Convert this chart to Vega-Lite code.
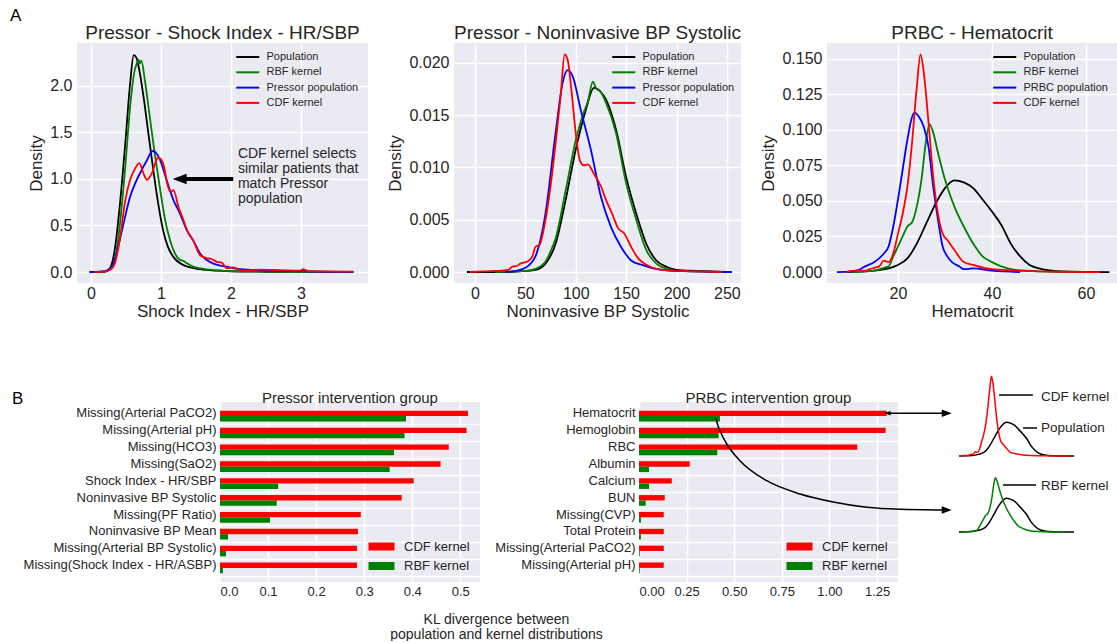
{
"$schema": "https://vega.github.io/schema/vega-lite/v6.json",
"background": "white",
"padding": {"left": 10, "top": 7, "right": 0, "bottom": 0},
"config": {
  "font": "Liberation Sans",
  "view": {"fill": "#EAEAF2", "stroke": null},
  "axis": {"domain": false, "ticks": false, "grid": true, "gridColor": "#FFFFFF", "gridWidth": 1.6, "labelColor": "#262626", "titleColor": "#262626", "titleFontWeight": "normal", "labelFont": "Liberation Sans", "titleFont": "Liberation Sans"},
  "title": {"font": "Liberation Sans", "fontWeight": "normal", "color": "#262626"},
  "legend": {"labelFont": "Liberation Sans", "labelColor": "#262626"},
  "text": {"font": "Liberation Sans"}
},
"datasets": {
  "shock": [
    {"s":"Population","x":-0.02,"y":0},{"s":"Population","x":0.1,"y":0},{"s":"Population","x":0.2,"y":0.005},{"s":"Population","x":0.27,"y":0.04},{"s":"Population","x":0.34,"y":0.24},{"s":"Population","x":0.41,"y":0.7},{"s":"Population","x":0.49,"y":1.38},{"s":"Population","x":0.56,"y":2.03},{"s":"Population","x":0.61,"y":2.33},{"s":"Population","x":0.65,"y":2.3},{"s":"Population","x":0.68,"y":2.21},{"s":"Population","x":0.75,"y":1.89},{"s":"Population","x":0.82,"y":1.49},{"s":"Population","x":0.89,"y":1.1},{"s":"Population","x":0.96,"y":0.74},{"s":"Population","x":1.03,"y":0.45},{"s":"Population","x":1.1,"y":0.27},{"s":"Population","x":1.18,"y":0.16},{"s":"Population","x":1.32,"y":0.075},{"s":"Population","x":1.56,"y":0.03},{"s":"Population","x":1.8,"y":0.014},{"s":"Population","x":2.0,"y":0.008},{"s":"Population","x":2.5,"y":0.003},{"s":"Population","x":3.0,"y":0.001},{"s":"Population","x":3.75,"y":0},
    {"s":"RBF kernel","x":0,"y":0},{"s":"RBF kernel","x":0.2,"y":0.005},{"s":"RBF kernel","x":0.3,"y":0.05},{"s":"RBF kernel","x":0.36,"y":0.2},{"s":"RBF kernel","x":0.41,"y":0.49},{"s":"RBF kernel","x":0.49,"y":1.13},{"s":"RBF kernel","x":0.56,"y":1.78},{"s":"RBF kernel","x":0.62,"y":2.15},{"s":"RBF kernel","x":0.65,"y":2.23},{"s":"RBF kernel","x":0.68,"y":2.28},{"s":"RBF kernel","x":0.7,"y":2.24},{"s":"RBF kernel","x":0.72,"y":2.27},{"s":"RBF kernel","x":0.77,"y":2.06},{"s":"RBF kernel","x":0.84,"y":1.67},{"s":"RBF kernel","x":0.91,"y":1.28},{"s":"RBF kernel","x":0.99,"y":0.88},{"s":"RBF kernel","x":1.06,"y":0.56},{"s":"RBF kernel","x":1.13,"y":0.34},{"s":"RBF kernel","x":1.2,"y":0.2},{"s":"RBF kernel","x":1.27,"y":0.13},{"s":"RBF kernel","x":1.32,"y":0.12},{"s":"RBF kernel","x":1.36,"y":0.1},{"s":"RBF kernel","x":1.46,"y":0.057},{"s":"RBF kernel","x":1.7,"y":0.025},{"s":"RBF kernel","x":2.0,"y":0.01},{"s":"RBF kernel","x":2.5,"y":0.005},{"s":"RBF kernel","x":3.0,"y":0.002},{"s":"RBF kernel","x":3.75,"y":0},
    {"s":"Pressor population","x":-0.02,"y":0},{"s":"Pressor population","x":0.2,"y":0.01},{"s":"Pressor population","x":0.3,"y":0.06},{"s":"Pressor population","x":0.34,"y":0.13},{"s":"Pressor population","x":0.41,"y":0.34},{"s":"Pressor population","x":0.49,"y":0.6},{"s":"Pressor population","x":0.56,"y":0.81},{"s":"Pressor population","x":0.63,"y":0.95},{"s":"Pressor population","x":0.7,"y":1.06},{"s":"Pressor population","x":0.8,"y":1.2},{"s":"Pressor population","x":0.88,"y":1.3},{"s":"Pressor population","x":0.94,"y":1.27},{"s":"Pressor population","x":0.99,"y":1.2},{"s":"Pressor population","x":1.08,"y":0.99},{"s":"Pressor population","x":1.18,"y":0.77},{"s":"Pressor population","x":1.27,"y":0.63},{"s":"Pressor population","x":1.37,"y":0.45},{"s":"Pressor population","x":1.46,"y":0.34},{"s":"Pressor population","x":1.56,"y":0.2},{"s":"Pressor population","x":1.75,"y":0.09},{"s":"Pressor population","x":1.94,"y":0.057},{"s":"Pressor population","x":2.13,"y":0.03},{"s":"Pressor population","x":2.5,"y":0.015},{"s":"Pressor population","x":3.0,"y":0.01},{"s":"Pressor population","x":3.03,"y":0.02},{"s":"Pressor population","x":3.08,"y":0.008},{"s":"Pressor population","x":3.75,"y":0},
    {"s":"CDF kernel","x":0.05,"y":0},{"s":"CDF kernel","x":0.2,"y":0.005},{"s":"CDF kernel","x":0.3,"y":0.04},{"s":"CDF kernel","x":0.34,"y":0.09},{"s":"CDF kernel","x":0.41,"y":0.34},{"s":"CDF kernel","x":0.49,"y":0.77},{"s":"CDF kernel","x":0.56,"y":0.99},{"s":"CDF kernel","x":0.63,"y":1.11},{"s":"CDF kernel","x":0.69,"y":1.17},{"s":"CDF kernel","x":0.75,"y":1.06},{"s":"CDF kernel","x":0.8,"y":0.99},{"s":"CDF kernel","x":0.87,"y":1.06},{"s":"CDF kernel","x":0.96,"y":1.23},{"s":"CDF kernel","x":1.03,"y":1.17},{"s":"CDF kernel","x":1.1,"y":0.92},{"s":"CDF kernel","x":1.14,"y":0.86},{"s":"CDF kernel","x":1.18,"y":0.88},{"s":"CDF kernel","x":1.25,"y":0.7},{"s":"CDF kernel","x":1.32,"y":0.56},{"s":"CDF kernel","x":1.39,"y":0.42},{"s":"CDF kernel","x":1.46,"y":0.34},{"s":"CDF kernel","x":1.56,"y":0.18},{"s":"CDF kernel","x":1.65,"y":0.15},{"s":"CDF kernel","x":1.72,"y":0.14},{"s":"CDF kernel","x":1.8,"y":0.11},{"s":"CDF kernel","x":1.87,"y":0.1},{"s":"CDF kernel","x":1.94,"y":0.04},{"s":"CDF kernel","x":2.03,"y":0.05},{"s":"CDF kernel","x":2.17,"y":0.015},{"s":"CDF kernel","x":2.3,"y":0.02},{"s":"CDF kernel","x":2.41,"y":0.025},{"s":"CDF kernel","x":2.7,"y":0.02},{"s":"CDF kernel","x":3.0,"y":0.015},{"s":"CDF kernel","x":3.03,"y":0.03},{"s":"CDF kernel","x":3.1,"y":0.01},{"s":"CDF kernel","x":3.75,"y":0.005}
  ],
  "bp": [
    {"s":"Population","x":-8,"y":0},{"s":"Population","x":30,"y":0},{"s":"Population","x":50,"y":0.0001},{"s":"Population","x":60,"y":0.0002},{"s":"Population","x":70,"y":0.0008},{"s":"Population","x":80,"y":0.0027},{"s":"Population","x":90,"y":0.0069},{"s":"Population","x":100,"y":0.0117},{"s":"Population","x":110,"y":0.0155},{"s":"Population","x":118,"y":0.0176},{"s":"Population","x":125,"y":0.0172},{"s":"Population","x":130,"y":0.0165},{"s":"Population","x":140,"y":0.0136},{"s":"Population","x":150,"y":0.0091},{"s":"Population","x":160,"y":0.0056},{"s":"Population","x":170,"y":0.0027},{"s":"Population","x":180,"y":0.0011},{"s":"Population","x":190,"y":0.0005},{"s":"Population","x":200,"y":0.0002},{"s":"Population","x":220,"y":0.0001},{"s":"Population","x":250,"y":0},
    {"s":"RBF kernel","x":20,"y":0},{"s":"RBF kernel","x":50,"y":0.0001},{"s":"RBF kernel","x":60,"y":0.0003},{"s":"RBF kernel","x":70,"y":0.001},{"s":"RBF kernel","x":76,"y":0.0022},{"s":"RBF kernel","x":80,"y":0.0032},{"s":"RBF kernel","x":90,"y":0.0078},{"s":"RBF kernel","x":100,"y":0.0126},{"s":"RBF kernel","x":107,"y":0.015},{"s":"RBF kernel","x":112,"y":0.0163},{"s":"RBF kernel","x":117,"y":0.0182},{"s":"RBF kernel","x":120,"y":0.0176},{"s":"RBF kernel","x":125,"y":0.0172},{"s":"RBF kernel","x":130,"y":0.0162},{"s":"RBF kernel","x":140,"y":0.0133},{"s":"RBF kernel","x":150,"y":0.0085},{"s":"RBF kernel","x":160,"y":0.005},{"s":"RBF kernel","x":170,"y":0.0021},{"s":"RBF kernel","x":180,"y":0.0008},{"s":"RBF kernel","x":190,"y":0.0003},{"s":"RBF kernel","x":200,"y":0.0001},{"s":"RBF kernel","x":240,"y":0},
    {"s":"Pressor population","x":30,"y":0},{"s":"Pressor population","x":40,"y":0.0001},{"s":"Pressor population","x":50,"y":0.0004},{"s":"Pressor population","x":60,"y":0.0015},{"s":"Pressor population","x":70,"y":0.0056},{"s":"Pressor population","x":80,"y":0.0133},{"s":"Pressor population","x":87,"y":0.0181},{"s":"Pressor population","x":92,"y":0.0193},{"s":"Pressor population","x":97,"y":0.0187},{"s":"Pressor population","x":105,"y":0.0155},{"s":"Pressor population","x":115,"y":0.0117},{"s":"Pressor population","x":125,"y":0.0072},{"s":"Pressor population","x":135,"y":0.0043},{"s":"Pressor population","x":145,"y":0.0024},{"s":"Pressor population","x":155,"y":0.0011},{"s":"Pressor population","x":165,"y":0.0007},{"s":"Pressor population","x":175,"y":0.0004},{"s":"Pressor population","x":200,"y":0.0001},{"s":"Pressor population","x":255,"y":0},
    {"s":"CDF kernel","x":-5,"y":0},{"s":"CDF kernel","x":20,"y":0.0001},{"s":"CDF kernel","x":33,"y":0.0002},{"s":"CDF kernel","x":37,"y":0.0005},{"s":"CDF kernel","x":42,"y":0.0006},{"s":"CDF kernel","x":45,"y":0.0008},{"s":"CDF kernel","x":52,"y":0.001},{"s":"CDF kernel","x":57,"y":0.0015},{"s":"CDF kernel","x":60,"y":0.0024},{"s":"CDF kernel","x":64,"y":0.0026},{"s":"CDF kernel","x":70,"y":0.005},{"s":"CDF kernel","x":75,"y":0.0082},{"s":"CDF kernel","x":80,"y":0.0123},{"s":"CDF kernel","x":85,"y":0.0168},{"s":"CDF kernel","x":89,"y":0.0208},{"s":"CDF kernel","x":92,"y":0.0203},{"s":"CDF kernel","x":96,"y":0.0171},{"s":"CDF kernel","x":100,"y":0.0133},{"s":"CDF kernel","x":104,"y":0.0107},{"s":"CDF kernel","x":108,"y":0.0102},{"s":"CDF kernel","x":112,"y":0.0103},{"s":"CDF kernel","x":118,"y":0.0094},{"s":"CDF kernel","x":125,"y":0.0082},{"s":"CDF kernel","x":130,"y":0.0069},{"s":"CDF kernel","x":136,"y":0.0056},{"s":"CDF kernel","x":142,"y":0.0042},{"s":"CDF kernel","x":148,"y":0.0037},{"s":"CDF kernel","x":155,"y":0.0024},{"s":"CDF kernel","x":162,"y":0.0013},{"s":"CDF kernel","x":170,"y":0.0007},{"s":"CDF kernel","x":180,"y":0.0003},{"s":"CDF kernel","x":200,"y":0.0001},{"s":"CDF kernel","x":245,"y":0}
  ],
  "hct": [
    {"s":"Population","x":9,"y":0},{"s":"Population","x":12,"y":0.0003},{"s":"Population","x":15,"y":0.001},{"s":"Population","x":18,"y":0.0026},{"s":"Population","x":20,"y":0.005},{"s":"Population","x":22,"y":0.0096},{"s":"Population","x":24,"y":0.02},{"s":"Population","x":26,"y":0.034},{"s":"Population","x":28,"y":0.048},{"s":"Population","x":30,"y":0.059},{"s":"Population","x":32,"y":0.0645},{"s":"Population","x":34,"y":0.063},{"s":"Population","x":36,"y":0.059},{"s":"Population","x":38,"y":0.051},{"s":"Population","x":40,"y":0.0425},{"s":"Population","x":42,"y":0.033},{"s":"Population","x":44,"y":0.02},{"s":"Population","x":46,"y":0.011},{"s":"Population","x":48,"y":0.005},{"s":"Population","x":50,"y":0.0026},{"s":"Population","x":55,"y":0.0005},{"s":"Population","x":65,"y":0},
    {"s":"RBF kernel","x":10,"y":0},{"s":"RBF kernel","x":15,"y":0.001},{"s":"RBF kernel","x":17,"y":0.003},{"s":"RBF kernel","x":18,"y":0.004},{"s":"RBF kernel","x":19,"y":0.011},{"s":"RBF kernel","x":20,"y":0.018},{"s":"RBF kernel","x":21,"y":0.025},{"s":"RBF kernel","x":22,"y":0.032},{"s":"RBF kernel","x":23,"y":0.035},{"s":"RBF kernel","x":24,"y":0.046},{"s":"RBF kernel","x":25,"y":0.065},{"s":"RBF kernel","x":26,"y":0.093},{"s":"RBF kernel","x":26.7,"y":0.104},{"s":"RBF kernel","x":27.5,"y":0.098},{"s":"RBF kernel","x":28.5,"y":0.084},{"s":"RBF kernel","x":30,"y":0.065},{"s":"RBF kernel","x":32,"y":0.046},{"s":"RBF kernel","x":34,"y":0.032},{"s":"RBF kernel","x":36,"y":0.02},{"s":"RBF kernel","x":38,"y":0.011},{"s":"RBF kernel","x":40,"y":0.007},{"s":"RBF kernel","x":42,"y":0.004},{"s":"RBF kernel","x":45,"y":0.0015},{"s":"RBF kernel","x":50,"y":0.0005},{"s":"RBF kernel","x":60,"y":0},
    {"s":"PRBC population","x":7,"y":0},{"s":"PRBC population","x":10,"y":0.0005},{"s":"PRBC population","x":12,"y":0.002},{"s":"PRBC population","x":13,"y":0.004},{"s":"PRBC population","x":15,"y":0.007},{"s":"PRBC population","x":17,"y":0.013},{"s":"PRBC population","x":18,"y":0.018},{"s":"PRBC population","x":19,"y":0.032},{"s":"PRBC population","x":20,"y":0.051},{"s":"PRBC population","x":21,"y":0.072},{"s":"PRBC population","x":22,"y":0.093},{"s":"PRBC population","x":23,"y":0.109},{"s":"PRBC population","x":23.5,"y":0.112},{"s":"PRBC population","x":24.5,"y":0.109},{"s":"PRBC population","x":25.5,"y":0.102},{"s":"PRBC population","x":26.5,"y":0.088},{"s":"PRBC population","x":27.5,"y":0.06},{"s":"PRBC population","x":28.5,"y":0.037},{"s":"PRBC population","x":29.5,"y":0.018},{"s":"PRBC population","x":30.5,"y":0.011},{"s":"PRBC population","x":31.5,"y":0.007},{"s":"PRBC population","x":33,"y":0.004},{"s":"PRBC population","x":34,"y":0.002},{"s":"PRBC population","x":36,"y":0.0026},{"s":"PRBC population","x":40,"y":0.001},{"s":"PRBC population","x":46,"y":0},
    {"s":"CDF kernel","x":9,"y":0},{"s":"CDF kernel","x":11,"y":0.001},{"s":"CDF kernel","x":13,"y":0.0008},{"s":"CDF kernel","x":14,"y":0.002},{"s":"CDF kernel","x":15,"y":0.003},{"s":"CDF kernel","x":16,"y":0.004},{"s":"CDF kernel","x":17,"y":0.008},{"s":"CDF kernel","x":18,"y":0.007},{"s":"CDF kernel","x":19,"y":0.013},{"s":"CDF kernel","x":20,"y":0.027},{"s":"CDF kernel","x":21,"y":0.041},{"s":"CDF kernel","x":22,"y":0.06},{"s":"CDF kernel","x":23,"y":0.091},{"s":"CDF kernel","x":24,"y":0.13},{"s":"CDF kernel","x":24.8,"y":0.153},{"s":"CDF kernel","x":25.5,"y":0.14},{"s":"CDF kernel","x":26.5,"y":0.105},{"s":"CDF kernel","x":27.5,"y":0.067},{"s":"CDF kernel","x":28.5,"y":0.041},{"s":"CDF kernel","x":29.5,"y":0.027},{"s":"CDF kernel","x":30.5,"y":0.0225},{"s":"CDF kernel","x":32,"y":0.0155},{"s":"CDF kernel","x":34,"y":0.007},{"s":"CDF kernel","x":36,"y":0.005},{"s":"CDF kernel","x":40,"y":0.002},{"s":"CDF kernel","x":50,"y":0.0005},{"s":"CDF kernel","x":63,"y":0}
  ],
  "pressorKL": [
    {"f":"Missing(Arterial PaCO2)","k":"CDF kernel","kl":0.516},{"f":"Missing(Arterial PaCO2)","k":"RBF kernel","kl":0.387},
    {"f":"Missing(Arterial pH)","k":"CDF kernel","kl":0.513},{"f":"Missing(Arterial pH)","k":"RBF kernel","kl":0.384},
    {"f":"Missing(HCO3)","k":"CDF kernel","kl":0.476},{"f":"Missing(HCO3)","k":"RBF kernel","kl":0.362},
    {"f":"Missing(SaO2)","k":"CDF kernel","kl":0.459},{"f":"Missing(SaO2)","k":"RBF kernel","kl":0.353},
    {"f":"Shock Index - HR/SBP","k":"CDF kernel","kl":0.403},{"f":"Shock Index - HR/SBP","k":"RBF kernel","kl":0.121},
    {"f":"Noninvasive BP Systolic","k":"CDF kernel","kl":0.378},{"f":"Noninvasive BP Systolic","k":"RBF kernel","kl":0.118},
    {"f":"Missing(PF Ratio)","k":"CDF kernel","kl":0.293},{"f":"Missing(PF Ratio)","k":"RBF kernel","kl":0.104},
    {"f":"Noninvasive BP Mean","k":"CDF kernel","kl":0.287},{"f":"Noninvasive BP Mean","k":"RBF kernel","kl":0.0166},
    {"f":"Missing(Arterial BP Systolic)","k":"CDF kernel","kl":0.285},{"f":"Missing(Arterial BP Systolic)","k":"RBF kernel","kl":0.0125},
    {"f":"Missing(Shock Index - HR/ASBP)","k":"CDF kernel","kl":0.285},{"f":"Missing(Shock Index - HR/ASBP)","k":"RBF kernel","kl":0.006}
  ],
  "prbcKL": [
    {"f":"Hematocrit","k":"CDF kernel","kl":1.301},{"f":"Hematocrit","k":"RBF kernel","kl":0.425},
    {"f":"Hemoglobin","k":"CDF kernel","kl":1.295},{"f":"Hemoglobin","k":"RBF kernel","kl":0.418},
    {"f":"RBC","k":"CDF kernel","kl":1.146},{"f":"RBC","k":"RBF kernel","kl":0.411},
    {"f":"Albumin","k":"CDF kernel","kl":0.266},{"f":"Albumin","k":"RBF kernel","kl":0.0527},
    {"f":"Calcium","k":"CDF kernel","kl":0.172},{"f":"Calcium","k":"RBF kernel","kl":0.0527},
    {"f":"BUN","k":"CDF kernel","kl":0.135},{"f":"BUN","k":"RBF kernel","kl":0.035},
    {"f":"Missing(CVP)","k":"CDF kernel","kl":0.13},{"f":"Missing(CVP)","k":"RBF kernel","kl":0.01},
    {"f":"Total Protein","k":"CDF kernel","kl":0.13},{"f":"Total Protein","k":"RBF kernel","kl":0.01},
    {"f":"Missing(Arterial PaCO2)","k":"CDF kernel","kl":0.13},{"f":"Missing(Arterial PaCO2)","k":"RBF kernel","kl":0.004},
    {"f":"Missing(Arterial pH)","k":"CDF kernel","kl":0.13},{"f":"Missing(Arterial pH)","k":"RBF kernel","kl":0.004}
  ]
},
"spacing": 54,
"resolve": {"scale": {"color": "independent"}, "legend": {"color": "independent"}},
"vconcat": [
  {
    "title": {"text": "A", "anchor": "start", "frame": "group", "fontSize": 17, "dx": -67, "dy": 17, "offset": 3, "baseline": "alphabetic", "color": "#000000"},
    "bounds": "flush",
    "spacing": 86,
    "resolve": {"scale": {"color": "independent"}, "legend": {"color": "independent"}},
    "hconcat": [
      {
        "width": 291, "height": 240,
        "title": {"text": "Pressor - Shock Index - HR/SBP", "fontSize": 19, "offset": -15, "baseline": "alphabetic"},
        "layer": [
          {"data": {"name": "shock"}, "mark": {"type": "line", "strokeWidth": 1.8, "interpolate": "monotone"},
           "encoding": {
             "x": {"field": "x", "type": "quantitative", "scale": {"domain": [-0.2, 3.96], "nice": false, "zero": false}, "axis": {"values": [0,1,2,3], "format": "d", "title": "Shock Index - HR/SBP", "labelFontSize": 16, "titleFontSize": 17, "labelPadding": 2, "titlePadding": 2}},
             "y": {"field": "y", "type": "quantitative", "scale": {"domain": [-0.118, 2.46], "nice": false, "zero": false}, "axis": {"values": [0,0.5,1,1.5,2], "format": ".1f", "title": "Density", "labelFontSize": 16, "titleFontSize": 17, "labelPadding": 5, "titlePadding": 4}},
             "color": {"field": "s", "type": "nominal", "sort": null, "scale": {"domain": ["Population","RBF kernel","Pressor population","CDF kernel"], "range": ["#000000","#008000","#0000FF","#FF0000"]},
               "legend": {"orient": "none", "legendX": 163.75, "legendY": 7, "title": null, "symbolType": "M-2,0H2", "symbolSize": 132, "symbolStrokeWidth": 2, "labelFontSize": 11, "labelOffset": 11.75, "rowPadding": 3.3, "padding": 0}}
           }},
          {"data": {"values": [{"x": 2.1, "y": 1.344, "t": "CDF kernel selects\nsimilar patients that\nmatch Pressor\npopulation"}]},
           "mark": {"type": "text", "align": "left", "baseline": "top", "fontSize": 14, "lineHeight": 15, "lineBreak": "\n", "color": "#262626"},
           "encoding": {"x": {"field": "x", "type": "quantitative"}, "y": {"field": "y", "type": "quantitative"}, "text": {"field": "t"}}},
          {"data": {"values": [{"x": 2.033, "x2": 1.3, "y": 1.0}]},
           "mark": {"type": "rule", "strokeWidth": 4, "color": "#000000"},
           "encoding": {"x": {"field": "x", "type": "quantitative"}, "x2": {"field": "x2"}, "y": {"field": "y", "type": "quantitative"}}},
          {"data": {"values": [{"x": 1.267, "y": 1.0}]},
           "mark": {"type": "point", "shape": "M-1,0L1,-0.75L1,0.75Z", "size": 196, "filled": true, "color": "#000000", "opacity": 1},
           "encoding": {"x": {"field": "x", "type": "quantitative"}, "y": {"field": "y", "type": "quantitative"}}}
        ]
      },
      {
        "width": 287, "height": 240,
        "title": {"text": "Pressor - Noninvasive BP Systolic", "fontSize": 19, "offset": -15, "baseline": "alphabetic"},
        "data": {"name": "bp"},
        "mark": {"type": "line", "strokeWidth": 1.8, "interpolate": "monotone"},
        "encoding": {
          "x": {"field": "x", "type": "quantitative", "scale": {"domain": [-20.8, 264], "nice": false, "zero": false}, "axis": {"values": [0,50,100,150,200,250], "format": "d", "title": "Noninvasive BP Systolic", "labelFontSize": 16, "titleFontSize": 17, "labelPadding": 2, "titlePadding": 2}},
          "y": {"field": "y", "type": "quantitative", "scale": {"domain": [-0.00105, 0.0219], "nice": false, "zero": false}, "axis": {"values": [0,0.005,0.01,0.015,0.02], "format": ".3f", "title": "Density", "labelFontSize": 16, "titleFontSize": 17, "labelPadding": 5, "titlePadding": 4}},
          "color": {"field": "s", "type": "nominal", "sort": null, "scale": {"domain": ["Population","RBF kernel","Pressor population","CDF kernel"], "range": ["#000000","#008000","#0000FF","#FF0000"]},
            "legend": {"orient": "none", "legendX": 162.75, "legendY": 7, "title": null, "symbolType": "M-2,0H2", "symbolSize": 132, "symbolStrokeWidth": 2, "labelFontSize": 11, "labelOffset": 11.75, "rowPadding": 3.3, "padding": 0}}
        }
      },
      {
        "width": 290, "height": 240,
        "title": {"text": "PRBC - Hematocrit", "fontSize": 19, "offset": -15, "baseline": "alphabetic"},
        "data": {"name": "hct"},
        "mark": {"type": "line", "strokeWidth": 1.8, "interpolate": "monotone"},
        "encoding": {
          "x": {"field": "x", "type": "quantitative", "scale": {"domain": [4.9, 66.6], "nice": false, "zero": false}, "axis": {"values": [20,40,60], "format": "d", "title": "Hematocrit", "labelFontSize": 16, "titleFontSize": 17, "labelPadding": 2, "titlePadding": 2}},
          "y": {"field": "y", "type": "quantitative", "scale": {"domain": [-0.0077, 0.161], "nice": false, "zero": false}, "axis": {"values": [0,0.025,0.05,0.075,0.1,0.125,0.15], "format": ".3f", "title": "Density", "labelFontSize": 16, "titleFontSize": 17, "labelPadding": 5, "titlePadding": 4}},
          "color": {"field": "s", "type": "nominal", "sort": null, "scale": {"domain": ["Population","RBF kernel","PRBC population","CDF kernel"], "range": ["#000000","#008000","#0000FF","#FF0000"]},
            "legend": {"orient": "none", "legendX": 170.75, "legendY": 7, "title": null, "symbolType": "M-2,0H2", "symbolSize": 132, "symbolStrokeWidth": 2, "labelFontSize": 11, "labelOffset": 11.75, "rowPadding": 3.3, "padding": 0}}
        }
      }
    ]
  },
  {
    "title": {"text": "B", "anchor": "start", "frame": "group", "fontSize": 17, "dx": -65, "dy": 48, "offset": 0, "baseline": "alphabetic", "color": "#000000"},
    "bounds": "flush",
    "spacing": 142,
    "resolve": {"scale": {"color": "independent"}, "legend": {"color": "independent"}},
    "hconcat": [
      {"width": 1, "height": 1, "view": {"fill": null, "stroke": null}, "data": {"values": []}, "mark": "point"},
      {
        "spacing": 4,
        "resolve": {"scale": {"color": "independent"}, "legend": {"color": "independent"}},
        "hconcat": [
          {
            "bounds": "flush",
            "spacing": 159,
            "resolve": {"scale": {"color": "independent"}, "legend": {"color": "independent"}},
            "hconcat": [
              {
                "width": 260, "height": 180,
                "title": {"text": "Pressor intervention group", "fontSize": 15, "offset": -16, "baseline": "alphabetic"},
                "data": {"name": "pressorKL"},
                "mark": {"type": "bar"},
                "encoding": {
                  "x": {"field": "kl", "type": "quantitative", "scale": {"domain": [0, 0.541], "nice": false, "zero": false},
                    "axis": {"values": [0,0.1,0.2,0.3,0.4,0.5], "format": ".1f", "labelFontSize": 13, "labelPadding": 3, "title": ["KL divergence between", "population and kernel distributions"], "titleFontSize": 14, "titleX": 276, "titleY": 30, "titleBaseline": "top", "titleAlign": "center", "titleLineHeight": 15}},
                  "y": {"field": "f", "type": "nominal", "sort": null, "scale": {"paddingInner": 0.365, "paddingOuter": 0.52},
                    "axis": {"title": null, "labelFontSize": 13, "labelPadding": 4, "bandPosition": 1.288, "labelOffset": -2.7, "labelLimit": 300}},
                  "yOffset": {"field": "k", "type": "nominal", "sort": null, "scale": {"paddingInner": 0, "paddingOuter": 0}},
                  "color": {"field": "k", "type": "nominal", "sort": null, "scale": {"domain": ["CDF kernel", "RBF kernel"], "range": ["#FF0000", "#008000"]},
                    "legend": {"orient": "none", "legendX": 155, "legendY": 138, "title": null, "symbolType": "M-3.25,-1H3.25V1H-3.25Z", "symbolSize": 64, "symbolStrokeWidth": 0, "symbolOpacity": 1, "labelFontSize": 13, "labelOffset": 16, "rowPadding": 5.5, "padding": 0}}
                }
              },
              {
                "width": 259, "height": 180,
                "title": {"text": "PRBC intervention group", "fontSize": 15, "offset": -16, "baseline": "alphabetic"},
                "resolve": {"scale": {"y": "independent"}},
                "layer": [
                  {
                    "data": {"name": "prbcKL"},
                    "mark": {"type": "bar"},
                    "encoding": {
                      "x": {"field": "kl", "type": "quantitative", "scale": {"domain": [0, 1.36], "nice": false, "zero": false},
                        "axis": {"values": [0,0.25,0.5,0.75,1,1.25], "format": ".2f", "labelFontSize": 13, "labelPadding": 3, "title": null}},
                      "y": {"field": "f", "type": "nominal", "sort": null, "scale": {"paddingInner": 0.365, "paddingOuter": 0.52},
                        "axis": {"title": null, "labelFontSize": 13, "labelPadding": 4, "bandPosition": 1.288, "labelOffset": -2.7, "labelLimit": 300}},
                      "yOffset": {"field": "k", "type": "nominal", "sort": null, "scale": {"paddingInner": 0, "paddingOuter": 0}},
                      "color": {"field": "k", "type": "nominal", "sort": null, "scale": {"domain": ["CDF kernel", "RBF kernel"], "range": ["#FF0000", "#008000"]},
                        "legend": {"orient": "none", "legendX": 154, "legendY": 138, "title": null, "symbolType": "M-3.25,-1H3.25V1H-3.25Z", "symbolSize": 64, "symbolStrokeWidth": 0, "symbolOpacity": 1, "labelFontSize": 13, "labelOffset": 16, "rowPadding": 5.5, "padding": 0}}
                    }
                  },
                  {
                    "data": {"values": [{"kl": 1.292, "kl2": 1.616, "row": -0.166}]},
                    "mark": {"type": "rule", "strokeWidth": 1.5, "color": "#000000", "clip": false},
                    "encoding": {
                      "x": {"field": "kl", "type": "quantitative", "scale": {"domain": [0, 1.36], "nice": false, "zero": false}},
                      "x2": {"field": "kl2"},
                      "y": {"field": "row", "type": "quantitative", "scale": {"domain": [-0.836, 9.84], "reverse": true, "nice": false, "zero": false}, "axis": null}
                    }
                  },
                  {
                    "data": {"values": [
                      {"kl": 0.404, "row": 0.113}, {"kl": 0.412, "row": 0.47}, {"kl": 0.425, "row": 0.866}, {"kl": 0.461, "row": 1.655},
                      {"kl": 0.53, "row": 2.645}, {"kl": 0.671, "row": 3.832}, {"kl": 0.846, "row": 4.62}, {"kl": 1.02, "row": 5.095},
                      {"kl": 1.196, "row": 5.409}, {"kl": 1.371, "row": 5.528}, {"kl": 1.589, "row": 5.569}, {"kl": 1.616, "row": 5.572}
                    ]},
                    "mark": {"type": "line", "strokeWidth": 1.5, "color": "#000000", "interpolate": "monotone", "clip": false},
                    "encoding": {
                      "x": {"field": "kl", "type": "quantitative", "scale": {"domain": [0, 1.36], "nice": false, "zero": false}},
                      "y": {"field": "row", "type": "quantitative", "scale": {"domain": [-0.836, 9.84], "reverse": true, "nice": false, "zero": false}, "axis": null}
                    }
                  },
                  {
                    "data": {"values": [{"kl": 1.616, "row": -0.166}, {"kl": 1.616, "row": 5.572}]},
                    "mark": {"type": "point", "shape": "M1,0L-1,-0.75L-1,0.75Z", "size": 100, "filled": true, "color": "#000000", "opacity": 1, "clip": false},
                    "encoding": {
                      "x": {"field": "kl", "type": "quantitative", "scale": {"domain": [0, 1.36], "nice": false, "zero": false}},
                      "y": {"field": "row", "type": "quantitative", "scale": {"domain": [-0.836, 9.84], "reverse": true, "nice": false, "zero": false}, "axis": null}
                    }
                  },
                  {
                    "data": {"values": [{"kl": 1.305, "row": -0.166}]},
                    "mark": {"type": "point", "shape": "M-1,0L1,-0.75L1,0.75Z", "size": 36, "filled": true, "color": "#000000", "opacity": 1, "clip": false},
                    "encoding": {
                      "x": {"field": "kl", "type": "quantitative", "scale": {"domain": [0, 1.36], "nice": false, "zero": false}},
                      "y": {"field": "row", "type": "quantitative", "scale": {"domain": [-0.836, 9.84], "reverse": true, "nice": false, "zero": false}, "axis": null}
                    }
                  }
                ]
              }
            ]
          },
          {
            "bounds": "flush",
            "spacing": 22,
            "vconcat": [
              {
                "width": 115, "height": 54,
                "view": {"fill": null, "stroke": null},
                "layer": [
                  {"data": {"name": "hct"}, "transform": [{"filter": "datum.s === 'Population'"}],
                   "mark": {"type": "line", "color": "#000000", "strokeWidth": 1.5, "interpolate": "monotone", "clip": false},
                   "encoding": {"x": {"field": "x", "type": "quantitative", "scale": {"domain": [9, 65], "nice": false, "zero": false}, "axis": null},
                                "y": {"field": "y", "type": "quantitative", "scale": {"domain": [0, 0.1035], "nice": false, "zero": false}, "axis": null}}},
                  {"data": {"name": "hct"}, "transform": [{"filter": "datum.s === 'CDF kernel'"}],
                   "mark": {"type": "line", "color": "#FF0000", "strokeWidth": 1.5, "interpolate": "monotone", "clip": false},
                   "encoding": {"x": {"field": "x", "type": "quantitative"}, "y": {"field": "y", "type": "quantitative"}}},
                  {"data": {"values": [{"x": 28.5, "x2": 45.0, "y": 0.117}, {"x": 40.2, "x2": 47.0, "y": 0.0537}]},
                   "mark": {"type": "rule", "color": "#000000", "strokeWidth": 1.5, "clip": false},
                   "encoding": {"x": {"field": "x", "type": "quantitative"}, "x2": {"field": "x2"}, "y": {"field": "y", "type": "quantitative"}}},
                  {"data": {"values": [{"x": 48.9, "y": 0.114, "t": "CDF kernel"}, {"x": 48.9, "y": 0.0537, "t": "Population"}]},
                   "mark": {"type": "text", "align": "left", "baseline": "middle", "fontSize": 13.5, "color": "#262626", "clip": false},
                   "encoding": {"x": {"field": "x", "type": "quantitative"}, "y": {"field": "y", "type": "quantitative"}, "text": {"field": "t"}}}
                ]
              },
              {
                "width": 115, "height": 54,
                "view": {"fill": null, "stroke": null},
                "layer": [
                  {"data": {"name": "hct"}, "transform": [{"filter": "datum.s === 'Population'"}],
                   "mark": {"type": "line", "color": "#000000", "strokeWidth": 1.5, "interpolate": "monotone", "clip": false},
                   "encoding": {"x": {"field": "x", "type": "quantitative", "scale": {"domain": [9, 65], "nice": false, "zero": false}, "axis": null},
                                "y": {"field": "y", "type": "quantitative", "scale": {"domain": [0, 0.1035], "nice": false, "zero": false}, "axis": null}}},
                  {"data": {"name": "hct"}, "transform": [{"filter": "datum.s === 'RBF kernel'"}],
                   "mark": {"type": "line", "color": "#008000", "strokeWidth": 1.5, "interpolate": "monotone", "clip": false},
                   "encoding": {"x": {"field": "x", "type": "quantitative"}, "y": {"field": "y", "type": "quantitative"}}},
                  {"data": {"values": [{"x": 30.4, "x2": 46.5, "y": 0.09}]},
                   "mark": {"type": "rule", "color": "#000000", "strokeWidth": 1.5, "clip": false},
                   "encoding": {"x": {"field": "x", "type": "quantitative"}, "x2": {"field": "x2"}, "y": {"field": "y", "type": "quantitative"}}},
                  {"data": {"values": [{"x": 48.9, "y": 0.089, "t": "RBF kernel"}]},
                   "mark": {"type": "text", "align": "left", "baseline": "middle", "fontSize": 13.5, "color": "#262626", "clip": false},
                   "encoding": {"x": {"field": "x", "type": "quantitative"}, "y": {"field": "y", "type": "quantitative"}, "text": {"field": "t"}}}
                ]
              }
            ]
          }
        ]
      }
    ]
  }
]
}
